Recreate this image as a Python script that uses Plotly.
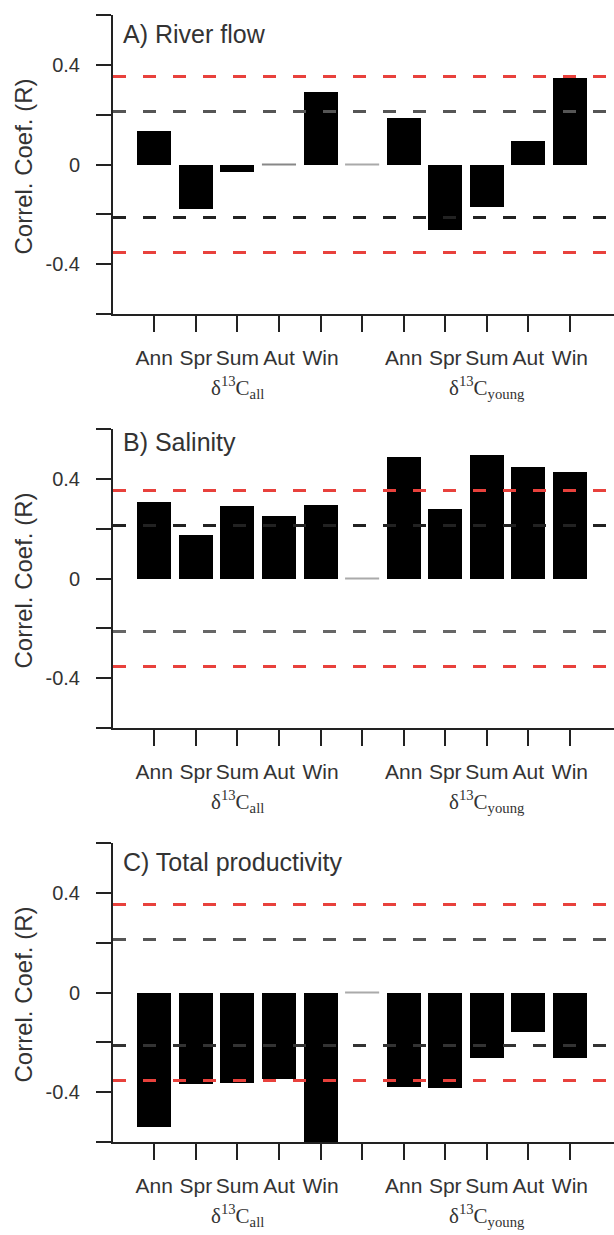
import plotly.graph_objects as go

# Correlation coefficients (R) of delta13C against environmental drivers
seasons = ["Ann", "Spr", "Sum", "Aut", "Win"]
group_labels = ["δ<sup>13</sup>C<sub>all</sub>", "δ<sup>13</sup>C<sub>young</sub>"]
panel_titles = ["A) River flow", "B) Salinity", "C) Total productivity"]

river_all = [0.133, -0.179, -0.029, 0.0, 0.291]
river_young = [0.185, -0.262, -0.169, 0.095, 0.349]

salinity_all = [0.309, 0.174, 0.290, 0.250, 0.297]
salinity_young = [0.487, 0.278, 0.496, 0.446, 0.428]

productivity_all = [-0.538, -0.367, -0.364, -0.347, -0.62]
productivity_young = [-0.380, -0.384, -0.261, -0.159, -0.261]

# significance thresholds drawn as dashed lines
sig_red = 0.353
sig_dark = 0.213

panels = [
    (river_all, river_young),
    (salinity_all, salinity_young),
    (productivity_all, productivity_young),
]

W, H = 614, 1235
ML = 113
# panel pixel extents (top, bottom)
panel_px = [(15, 314), (429, 728), (843, 1142)]
dark_colors = [("#555555", "#222222"), ("#222222", "#666666"), ("#555555", "#333333")]


def paper_y(py):
    return 1 - py / H


bar_w = 0.82
sep_index = len(seasons)
positions_all = list(range(len(seasons)))
positions_young = [sep_index + 1 + i for i in range(len(seasons))]
tick_vals = list(range(2 * len(seasons) + 1))
tick_text = seasons + [""] + seasons

fig = go.Figure()
shapes = []
annotations = []

for k, (vals_all, vals_young) in enumerate(panels):
    xa = "x" if k == 0 else f"x{k+1}"
    ya = "y" if k == 0 else f"y{k+1}"
    xs = positions_all + positions_young
    ys = list(vals_all) + list(vals_young)

    fig.add_trace(go.Bar(
        x=xs, y=ys, width=bar_w, marker=dict(color="black", line=dict(width=0)),
        xaxis=xa, yaxis=ya, showlegend=False, hoverinfo="x+y",
    ))

    # zero-valued entries and the separator slot render as thin grey strokes
    zx, zy = [], []
    for x, v in zip(xs, ys):
        if v == 0:
            zx += [x - bar_w / 2, x + bar_w / 2, None]
            zy += [v, v, None]
    if zx:
        fig.add_trace(go.Scatter(x=zx, y=zy, mode="lines", line=dict(color="#888888", width=2),
                                 xaxis=xa, yaxis=ya, showlegend=False, hoverinfo="skip"))
    fig.add_trace(go.Scatter(x=[sep_index - bar_w / 2, sep_index + bar_w / 2], y=[0, 0], mode="lines",
                             line=dict(color="#aaaaaa", width=2),
                             xaxis=xa, yaxis=ya, showlegend=False, hoverinfo="skip"))

    top, bottom = panel_px[k]
    up_c, lo_c = dark_colors[k]
    for level, color in [(sig_red, "#e8413c"), (-sig_red, "#e8413c"), (sig_dark, up_c), (-sig_dark, lo_c)]:
        shapes.append(dict(type="line", xref=f"{xa} domain", yref=ya, x0=0, x1=1, y0=level, y1=level,
                           line=dict(color=color, width=3, dash="13px,17px"), layer="above"))

    annotations.append(dict(text=panel_titles[k], xref="paper", yref="paper",
                            x=(121 - ML) / (W - ML), y=paper_y(top + (19 if k != 1 else 13)),
                            xanchor="left", yanchor="middle", showarrow=False,
                            font=dict(size=25, color="#333333", family="Liberation Sans, Arial")))
    annotations.append(dict(text="Correl. Coef. (R)", xref="paper", yref="paper",
                            x=(23 - ML) / (W - ML), y=paper_y((top + bottom) / 2 + 2),
                            xanchor="center", yanchor="middle", textangle=-90, showarrow=False,
                            font=dict(size=24, color="#333333", family="Liberation Sans, Arial")))
    for gx, glabel in zip([positions_all[2], positions_young[2]], group_labels):
        annotations.append(dict(text=glabel, xref=xa, yref="paper", x=gx, y=paper_y(bottom + 73),
                                xanchor="center", yanchor="middle", showarrow=False,
                                font=dict(size=21, color="#333333", family="Liberation Serif, Times New Roman")))

    dom = [paper_y(bottom), paper_y(top)]
    axis_common = dict(showline=True, linewidth=2, linecolor="#222222", ticks="outside",
                       tickwidth=2, tickcolor="#222222", showgrid=False, zeroline=False,
                       tickfont=dict(color="#333333", family="Liberation Sans, Arial"))
    fig.update_layout(**{
        ("xaxis" if k == 0 else f"xaxis{k+1}"): dict(
            axis_common, domain=[0, 1], anchor=ya, range=[-0.993, 11.06],
            tickvals=tick_vals, ticktext=tick_text, ticklen=16, ticklabelstandoff=8,
            tickfont=dict(size=21, color="#333333", family="Liberation Sans, Arial")),
        ("yaxis" if k == 0 else f"yaxis{k+1}"): dict(
            axis_common, domain=dom, anchor=xa, range=[-0.6, 0.6],
            tickvals=[-0.6, -0.4, -0.2, 0, 0.2, 0.4, 0.6],
            ticktext=["", "-0.4", "", "0", "", "0.4", ""], ticklen=15, ticklabelstandoff=12,
            tickfont=dict(size=20, color="#333333", family="Liberation Sans, Arial")),
    })

fig.update_layout(
    width=W, height=H, margin=dict(l=ML, r=0, t=0, b=0),
    paper_bgcolor="white", plot_bgcolor="white",
    shapes=shapes, annotations=annotations, bargap=0,
)

fig.write_html("out.html")
